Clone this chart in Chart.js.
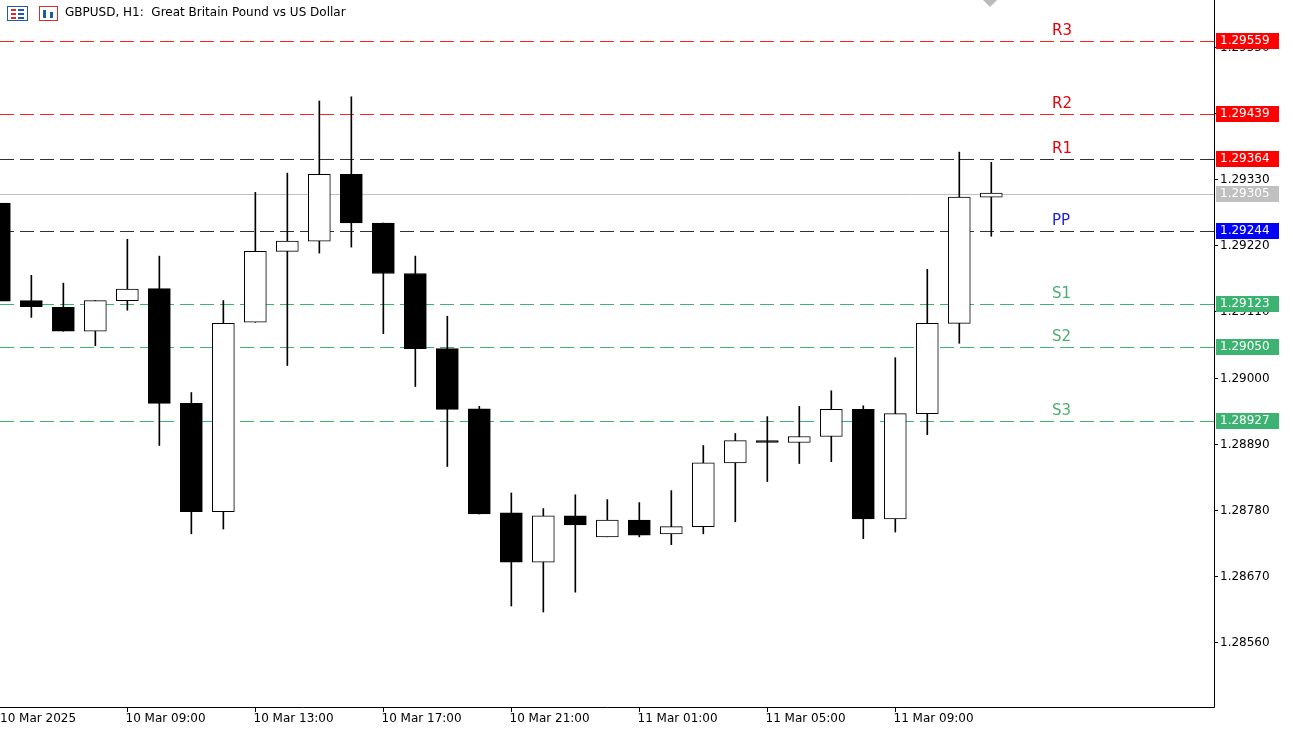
<!DOCTYPE html>
<html><head><meta charset="utf-8">
<script src="https://cdn.jsdelivr.net/npm/chart.js@4"></script>
<style>html,body{margin:0;padding:0;background:#fff;overflow:hidden}#w{width:1293px;height:732px;position:relative}</style>
</head><body><div id="w"><canvas id="c"></canvas></div>
<script>
const title = "GBPUSD, H1:  Great Britain Pound vs US Dollar";
const opens  = [1.29290,1.29128,1.29117,1.29077,1.29128,1.29148,1.28957,1.28777,1.29092,1.29210,1.29227,1.29338,1.29257,1.29173,1.29048,1.28948,1.28775,1.28693,1.28770,1.28735,1.28763,1.28740,1.28752,1.28858,1.28895,1.28892,1.28902,1.28947,1.28765,1.28940,1.29090,1.29300];
const closes = [1.29127,1.29118,1.29077,1.29128,1.29147,1.28957,1.28777,1.29090,1.29210,1.29227,1.29338,1.29257,1.29173,1.29048,1.28947,1.28773,1.28693,1.28770,1.28755,1.28763,1.28738,1.28752,1.28858,1.28895,1.28892,1.28902,1.28947,1.28765,1.28940,1.29090,1.29300,1.29307];
const highs  = [1.29290,1.29170,1.29157,1.29128,1.29230,1.29202,1.28975,1.29128,1.29308,1.29340,1.29460,1.29467,1.29257,1.29202,1.29102,1.28952,1.28808,1.28782,1.28805,1.28797,1.28792,1.28812,1.28887,1.28907,1.28935,1.28952,1.28978,1.28953,1.29033,1.29180,1.29375,1.29358];
const lows   = [1.29127,1.29100,1.29077,1.29053,1.29112,1.28887,1.28740,1.28748,1.29092,1.29020,1.29207,1.29217,1.29073,1.28985,1.28852,1.28773,1.28620,1.28610,1.28643,1.28735,1.28735,1.28722,1.28740,1.28760,1.28827,1.28857,1.28860,1.28732,1.28743,1.28905,1.29057,1.29235];
const levelNames  = ["R3","R2","R1","PP","S1","S2","S3"];
const levelValues = [1.29559,1.29439,1.29364,1.29244,1.29123,1.29050,1.28927];
const levelColors = ["#ff0000","#ff0000","#ff0000","#0000ff","#3cb371","#3cb371","#3cb371"];
const labelColors = ["#e8000b","#e8000b","#e8000b","#1f1fd6","#4caf6e","#4caf6e","#4caf6e"];
const lineColors  = ["#ff2020","#ff2020","#303030","#303030","#3cb371","#3cb371","#3cb371"];
const lastPrice = 1.29305;
const yTicks = [1.28560,1.28670,1.28780,1.28890,1.29000,1.29110,1.29220,1.29330,1.29440,1.29550];
const xTickIdx = [0,4,8,12,16,20,24,28];
const xTickLabels = ["10 Mar 2025","10 Mar 09:00","10 Mar 13:00","10 Mar 17:00","10 Mar 21:00","11 Mar 01:00","11 Mar 05:00","11 Mar 09:00"];

const bodies = opens.map((o,i)=>{const lo=Math.min(o,closes[i]),hi=Math.max(o,closes[i]);return {x:i,y:[lo,hi-lo<0.00002?lo+0.00002:hi]};});
const wicks = highs.map((h,i)=>({x:i,y:[lows[i],h]}));
const bodyFill = opens.map((o,i)=>closes[i]>=o?'#ffffff':'#000000');
let py;
const overlay = {
  id:'overlay',
  beforeDatasetsDraw(chart){
    const {ctx, chartArea:a, scales:{x,y}} = chart;
    ctx.save();
    ctx.strokeStyle='#c0c0c0';ctx.lineWidth=1;ctx.setLineDash([]);
    py=Math.round(y.getPixelForValue(lastPrice))+0.5;
    ctx.beginPath();ctx.moveTo(a.left,py);ctx.lineTo(a.right,py);ctx.stroke();
    levelValues.forEach((v,i)=>{
      const yy=Math.round(y.getPixelForValue(v))+0.5;
      ctx.strokeStyle=lineColors[i];ctx.setLineDash([14,6]);
      ctx.beginPath();ctx.moveTo(a.left,yy);ctx.lineTo(a.right,yy);ctx.stroke();
    });
    ctx.restore();
  },
  afterDraw(chart){
    const {ctx, chartArea:a, scales:{x,y}} = chart;
    ctx.save();
    ctx.setLineDash([]);
    ctx.strokeStyle='#000';ctx.lineWidth=1;
    ctx.beginPath();ctx.moveTo(a.right+0.5,0);ctx.lineTo(a.right+0.5,a.bottom+0.5);ctx.lineTo(0,a.bottom+0.5);ctx.stroke();
    ctx.font='12px "DejaVu Sans", sans-serif';ctx.fillStyle='#000';ctx.textBaseline='middle';ctx.textAlign='left';
    yTicks.forEach(v=>{
      const yy=Math.round(y.getPixelForValue(v))+0.5;
      ctx.beginPath();ctx.moveTo(a.right,yy);ctx.lineTo(a.right+4,yy);ctx.stroke();
      ctx.fillText(v.toFixed(5),a.right+6,yy);
    });
    ctx.textBaseline='top';
    xTickIdx.forEach((idx,i)=>{
      const xx=Math.round(x.getPixelForValue(idx))+0.5;
      ctx.beginPath();ctx.moveTo(xx,a.bottom);ctx.lineTo(xx,a.bottom+5);ctx.stroke();
      ctx.fillText(xTickLabels[i],Math.max(0,xx-2),a.bottom+6);
    });
    levelValues.forEach((v,i)=>{
      const yy=Math.round(y.getPixelForValue(v));
      ctx.font='15px "DejaVu Sans", sans-serif';ctx.fillStyle=labelColors[i];ctx.textBaseline='bottom';
      ctx.fillText(levelNames[i],1052,yy-2);
      ctx.fillStyle=levelColors[i];ctx.fillRect(a.right+2,yy-8,63,16);
      ctx.fillStyle='#fff';ctx.font='12px "DejaVu Sans", sans-serif';ctx.textBaseline='middle';
      ctx.fillText(v.toFixed(5),a.right+6,yy);
    });
    const p=Math.round(y.getPixelForValue(lastPrice));
    ctx.fillStyle='#c0c0c0';ctx.fillRect(a.right+2,p-8,63,16);
    ctx.fillStyle='#fff';ctx.fillText(lastPrice.toFixed(5),a.right+6,p);
    ctx.fillStyle='#000';ctx.font='12px "DejaVu Sans", sans-serif';
    ctx.fillText(title,65,13);
    ctx.strokeStyle='#1e5aa8';ctx.strokeRect(7.5,6.5,20,14);
    ctx.fillStyle='#d32f2f';ctx.fillRect(11,9,5,2);ctx.fillRect(11,13,5,2);ctx.fillRect(11,17,5,2);
    ctx.fillStyle='#1e5aa8';ctx.fillRect(18,9,6,2);ctx.fillRect(18,13,6,2);ctx.fillRect(18,17,6,2);
    ctx.strokeStyle='#d32f2f';ctx.strokeRect(39.5,6.5,18,14);
    ctx.fillStyle='#1e5aa8';ctx.fillRect(43,10,3,8);ctx.fillRect(50,12,3,6);
    ctx.fillStyle='#bbb';ctx.beginPath();ctx.moveTo(983,0);ctx.lineTo(997,0);ctx.lineTo(990,7);ctx.fill();
    ctx.restore();
  }
};
new Chart(document.getElementById('c'),{
  type:'bar',
  data:{datasets:[
    {data:wicks,backgroundColor:'#000',barThickness:1,grouped:false,order:2},
    {data:bodies,backgroundColor:bodyFill,borderColor:'#000',borderWidth:1,borderSkipped:false,barThickness:22,grouped:false,order:1}
  ]},
  options:{
    responsive:true,maintainAspectRatio:false,animation:false,
    layout:{padding:{left:0,right:79,top:0,bottom:25}},
    plugins:{legend:{display:false},tooltip:{enabled:false}},
    scales:{
      x:{type:'linear',min:0.02,max:37.96,offset:false,display:false},
      y:{type:'linear',min:1.28452,max:1.29628,display:false}
    }
  },
  plugins:[overlay]
});
</script></body></html>
